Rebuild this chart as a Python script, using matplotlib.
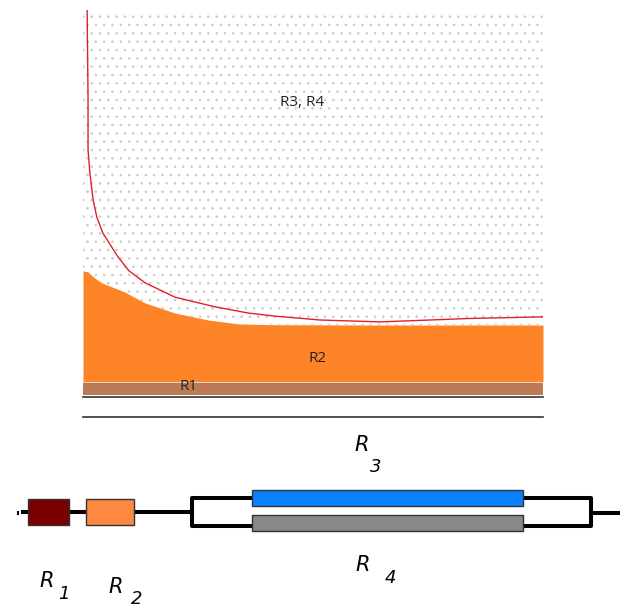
import matplotlib.pyplot as plt
from matplotlib.patches import Rectangle

# top panel: x in 0-100, y in 0-100 (percent of panel height)
r2_x = [0, 1.1, 2.6, 4.1, 9.1, 13.5, 20.0, 27.2, 33.7, 40.0, 60.0, 80.0, 100.0]
r2_top = [32.6, 32.3, 30.7, 29.5, 27.1, 24.3, 21.7, 19.9, 18.9, 18.7, 18.6, 18.6, 18.6]
r2_bottom = 4.0
r1_band = (0.5, 3.5)

curve_x = [0.9, 1.1, 1.1, 1.5, 2.2, 3.0, 4.3, 7.6, 10.0, 13.5, 20.0, 28.7, 35.9,
           41.7, 51.5, 64.6, 84.1, 100.0]
curve_y = [100, 76.7, 63.8, 57.9, 50.9, 46.5, 42.4, 36.2, 32.6, 29.5, 25.8, 23.3,
           21.7, 20.9, 19.9, 19.4, 20.3, 20.7]

region_labels = ["R1", "R2", "R3, R4"]
region_pos = [(23.0, 2.8), (51.0, 10.0), (47.7, 76.0)]

fig = plt.figure(figsize=(6.22, 6.08), dpi=100)

ax = fig.add_axes([83 / 622, (608 - 397) / 608, 460 / 622, 387 / 608])
ax.set_xlim(0, 100)
ax.set_ylim(0, 100)

plt.rcParams["hatch.linewidth"] = 0.6
ax.fill_between(r2_x, r2_top, 100, facecolor="white", edgecolor="#cacaca",
                hatch="..", linewidth=0)
ax.fill_between(r2_x, r2_bottom, r2_top, color="#fd8427", linewidth=0)
ax.fill_between([0, 100], 3.5, 4.0, color="#ecd2c2", linewidth=0)
ax.fill_between([0, 100], r1_band[0], r1_band[1], color="#b97a55", linewidth=0)
ax.plot(curve_x, curve_y, color="#e0202a", linewidth=1.0)

for lab, (tx, ty) in zip(region_labels, region_pos):
    ax.text(tx, ty, lab, ha="center", va="center", fontsize=11,
            family="Open Sans", color="#222222")

for s in ["top", "left", "right"]:
    ax.spines[s].set_visible(False)
ax.spines["bottom"].set_color("#333333")
ax.spines["bottom"].set_linewidth(1.2)
ax.axhline(-5.2, color="#333333", linewidth=1.2, clip_on=False)
ax.set_xticks([])
ax.set_yticks([])

# lower panel: schematic in pixel units
dax = fig.add_axes([0, 0, 1, 178 / 608])
dax.set_xlim(0, 622)
dax.set_ylim(608, 430)
dax.axis("off")

lw = 2.9
dax.plot([21, 191], [511.5, 511.5], color="black", linewidth=lw, solid_capstyle="butt")
dax.plot([16.5, 18.5], [513, 513], color="black", linewidth=lw, solid_capstyle="butt")
dax.plot([252, 191.5, 191.5, 252], [498, 498, 525.5, 525.5], color="black", linewidth=lw)
dax.plot([523, 590.5, 590.5, 523], [498, 498, 525.5, 525.5], color="black", linewidth=lw)
dax.plot([590.5, 620], [513, 513], color="black", linewidth=lw, solid_capstyle="butt")

boxes = [
    (28, 499, 41, 26, "#7a0000"),
    (86, 499, 48, 26, "#fd8a40"),
    (252, 490, 271, 16, "#0a80ff"),
    (252, 515, 271, 16, "#888888"),
]
for bx, by, bw, bh, c in boxes:
    dax.add_patch(Rectangle((bx, by), bw, bh, facecolor=c, edgecolor="#333333",
                            linewidth=1.0, zorder=3))

sub_labels = ["1", "2", "3", "4"]
r_pos = [(47, 581), (116, 587), (362, 445), (363, 565)]
d_pos = [(64, 594), (137, 599), (376, 467), (390, 578)]
for s, (rx, ry), (sx, sy) in zip(sub_labels, r_pos, d_pos):
    dax.text(rx, ry, "R", ha="center", va="center", fontsize=15, style="italic",
             family="DejaVu Sans", color="black")
    dax.text(sx, sy, s, ha="center", va="center", fontsize=13, style="italic",
             family="DejaVu Sans", color="black")

fig.savefig("out.png", dpi=100)
